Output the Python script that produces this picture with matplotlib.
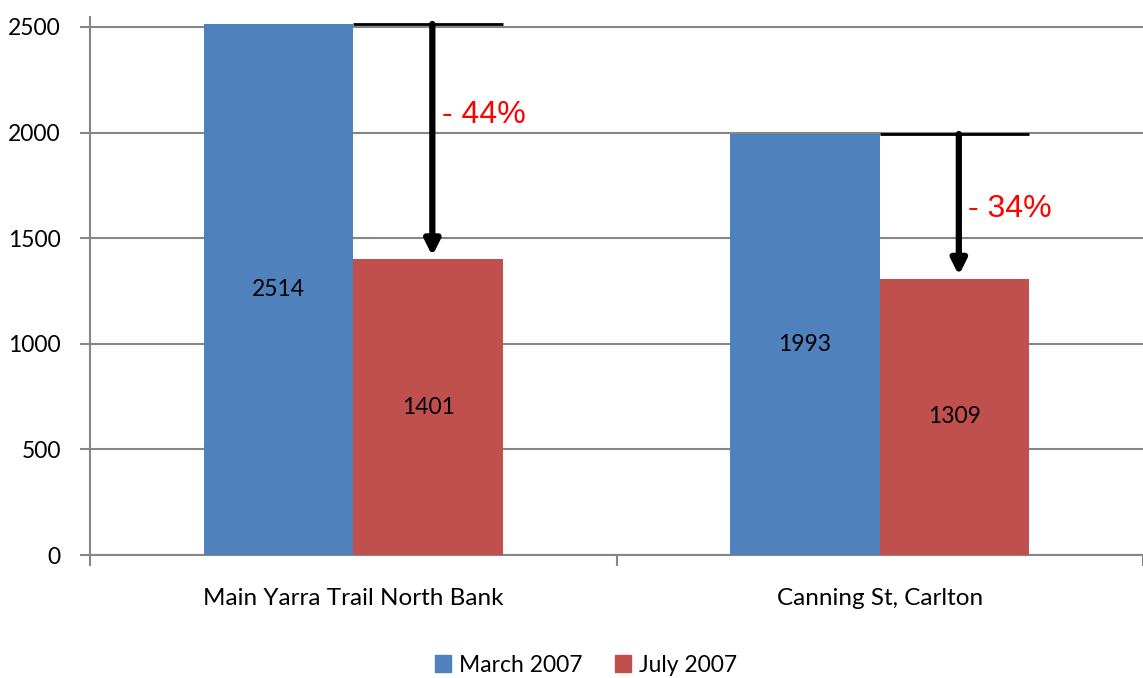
import matplotlib
matplotlib.use("Agg")
import matplotlib.pyplot as plt
import numpy as np
from matplotlib.patches import Patch

categories = ["Main Yarra Trail North Bank", "Canning St, Carlton"]
series_names = ["March 2007", "July 2007"]
march_2007 = [2514, 1993]
july_2007 = [1401, 1309]
y_ticks = [0, 500, 1000, 1500, 2000, 2500]
pct_label_y = [2085, 1640]

blue = "#4F81BD"
red = "#C0504D"
grid_c = "#868686"

plt.rcParams['font.family'] = ['Lato', 'DejaVu Sans']

fig = plt.figure(figsize=(11.43, 6.78), dpi=100)
ax = fig.add_axes([90/1143, 123/678, 1053/1143, 538/678])

x = np.arange(len(categories))
w = 0.2844
ax.bar(x - w/2, march_2007, w, color=blue, zorder=3)
ax.bar(x + w/2, july_2007, w, color=red, zorder=3)

for xi, v in zip(x - w/2, march_2007):
    ax.text(xi, v/2, str(v), ha='center', va='center', fontsize=16.5, zorder=5)
for xi, v in zip(x + w/2, july_2007):
    ax.text(xi, v/2, str(v), ha='center', va='center', fontsize=16.5, zorder=5)

# change annotations
for i in range(len(categories)):
    top = march_2007[i]
    bot = july_2007[i]
    xr = x[i] + w/2 + 0.008
    ax.plot([x[i], x[i] + w], [top, top], color='black', lw=2, zorder=6,
            solid_capstyle='butt')
    ax.annotate('', xy=(xr, bot + 15), xytext=(xr, top),
                arrowprops=dict(arrowstyle='-|>,head_length=0.9,head_width=0.45',
                                color='black', lw=4.5, shrinkA=0, shrinkB=0),
                zorder=7)
    pct = round((bot - top) / top * 100)
    ax.text(xr + 0.018, pct_label_y[i], f"- {abs(pct)}%", color='red',
            fontsize=23, family=['Liberation Sans'], ha='left', va='center',
            zorder=8)

ax.set_xlim(-0.5, -0.5 + 1053/531)
ax.set_ylim(0, 2547)
ax.set_yticks(y_ticks)
ax.set_yticklabels([str(t) for t in y_ticks], fontsize=16.5)
ax.yaxis.grid(True, color=grid_c, lw=1.5, zorder=0)
ax.set_axisbelow(True)

ax.set_xticks([-0.5, 0.5, 1.5])
ax.set_xticklabels([])
ax.set_xticks(x, minor=True)
ax.set_xticklabels(categories, minor=True, fontsize=17.5)
ax.tick_params(axis='x', which='minor', length=0, pad=24)
ax.tick_params(axis='x', which='major', length=8, width=1.5, color=grid_c)
ax.tick_params(axis='y', length=7, width=1.5, color=grid_c, pad=14)

for s in ['top', 'right']:
    ax.spines[s].set_visible(False)
for s in ['left', 'bottom']:
    ax.spines[s].set_color(grid_c)
    ax.spines[s].set_linewidth(1.5)

handles = [Patch(color=blue), Patch(color=red)]
fig.legend(handles, series_names, loc='center', bbox_to_anchor=(586/1143, 1 - 665/678),
           ncol=2, frameon=False, fontsize=16.5, handlelength=0.7, handleheight=0.7,
           handletextpad=0.35, columnspacing=1.4)

fig.savefig("out.png", dpi=100)
